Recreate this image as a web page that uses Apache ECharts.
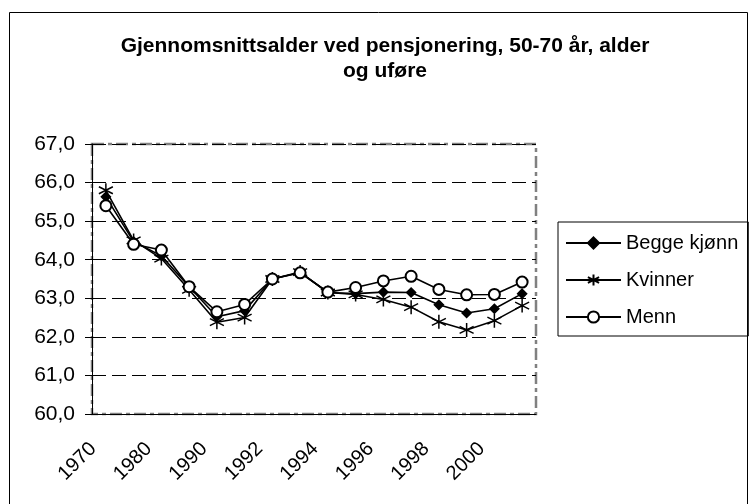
<!DOCTYPE html>
<html>
<head>
<meta charset="utf-8">
<script src="https://cdn.jsdelivr.net/npm/echarts@6/dist/echarts.min.js"></script>
<style>
  html, body { margin: 0; padding: 0; background: #fff; }
  #chart { width: 750px; height: 504px; }
</style>
</head>
<body>
<div id="chart"></div>
<script>
// årstall (kun annethvert vises på aksen)
const years = ['1970', '1975', '1980', '1985', '1990', '1991', '1992', '1993',
  '1994', '1995', '1996', '1997', '1998', '1999', '2000', '2001'];

const beggeKjonn = [65.63, 64.47, 64.1, 63.3, 62.52, 62.68, 63.5, 63.67,
  63.15, 63.12, 63.16, 63.15, 62.83, 62.62, 62.73, 63.12];
const kvinner = [65.8, 64.5, 64.03, 63.22, 62.38, 62.5, 63.5, 63.68,
  63.15, 63.1, 62.97, 62.77, 62.39, 62.18, 62.42, 62.81];
const menn = [65.4, 64.4, 64.25, 63.3, 62.65, 62.84, 63.5, 63.66,
  63.16, 63.28, 63.45, 63.57, 63.23, 63.09, 63.1, 63.42];

const yTicks = [60, 61, 62, 63, 64, 65, 66, 67];

const font = 'Liberation Sans, Arial, sans-serif';
const asterisk = 'path://M0,-10L0,10M-8.66,-5L8.66,5M-8.66,5L8.66,-5';

const chart = echarts.init(document.getElementById('chart'), null, { renderer: 'canvas' });

function lineSeries(name, data, symbol, size) {
  return {
    name: name,
    type: 'line',
    data: data,
    symbol: symbol,
    symbolSize: size,
    showAllSymbol: true,
    lineStyle: { color: '#000', width: 1.6 },
    itemStyle: { color: '#000', borderColor: '#000', borderWidth: 1.5 },
    emphasis: { disabled: true },
    animation: false
  };
}

const option = {
  backgroundColor: '#fff',
  animation: false,
  title: {
    text: 'Gjennomsnittsalder ved pensjonering, 50-70 år, alder\nog uføre',
    left: 380,
    textAlign: 'center',
    top: 29,
    textStyle: { fontFamily: font, fontSize: 21, fontWeight: 'bold', color: '#000', lineHeight: 25 }
  },
  legend: {
    orient: 'vertical',
    left: 558,
    top: 222,
    padding: [11, 10, 9, 7],
    itemWidth: 55,
    itemHeight: 14,
    itemGap: 17,
    borderColor: '#000',
    borderWidth: 1,
    textStyle: { fontFamily: font, fontSize: 20, lineHeight: 20, color: '#000' },
    data: ['Begge kjønn', 'Kvinner', 'Menn']
  },
  grid: {
    left: 92,
    right: 214,
    top: 144,
    bottom: 90,
    show: true,
    borderColor: '#808080',
    borderWidth: 2.5,
    borderType: [12, 4, 4, 4]
  },
  xAxis: {
    type: 'category',
    data: years,
    boundaryGap: true,
    axisLine: { lineStyle: { color: '#000', width: 1 } },
    axisTick: { interval: 0, length: 5, lineStyle: { color: '#000' } },
    axisLabel: {
      interval: 1,
      rotate: 45,
      margin: 19,
      padding: [0, 18, 0, 0],
      fontFamily: font,
      fontSize: 20,
      color: '#000'
    },
    splitLine: { show: false }
  },
  yAxis: [{
    type: 'value',
    min: yTicks[0],
    max: yTicks[yTicks.length - 1],
    interval: 1,
    axisLine: { show: true, lineStyle: { color: '#000', width: 1 } },
    axisTick: { show: true, length: 7, lineStyle: { color: '#000' } },
    axisLabel: {
      margin: 17,
      fontFamily: font,
      fontSize: 21,
      color: '#000',
      formatter: v => v.toFixed(1).replace('.', ',')
    },
    splitLine: { lineStyle: { color: '#000', width: 1, type: [14, 6] } }
  }, {
    // innvendige tikk (krysser aksen)
    type: 'value',
    position: 'left',
    min: yTicks[0],
    max: yTicks[yTicks.length - 1],
    interval: 1,
    axisLine: { show: false },
    axisTick: { show: true, inside: true, length: 7, lineStyle: { color: '#000' } },
    axisLabel: { show: false },
    splitLine: { show: false }
  }],
  graphic: [{
    type: 'rect',
    shape: { x: 9.5, y: 12.5, width: 738, height: 520 },
    style: { fill: 'none', stroke: '#000', lineWidth: 1 },
    silent: true,
    z: -1
  }],
  series: [
    lineSeries('Begge kjønn', beggeKjonn, 'diamond', 9),
    lineSeries('Kvinner', kvinner, asterisk, 14),
    lineSeries('Menn', menn, 'emptyCircle', 11)
  ]
};

chart.setOption(option);
</script>
</body>
</html>
